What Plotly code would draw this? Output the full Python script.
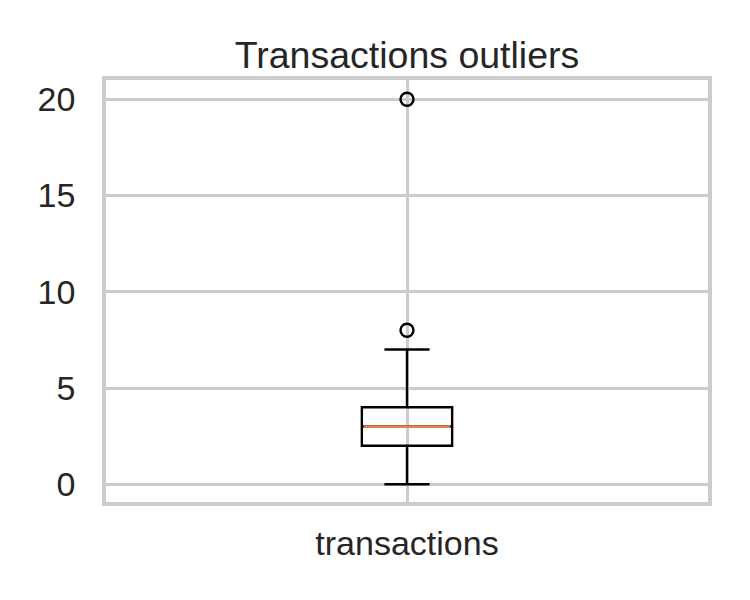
import plotly.graph_objects as go

# Data
category = ["transactions"]
positions = [1]
q1 = [2]
median = [3]
q3 = [4]
lower_whisker = [0]
upper_whisker = [7]
outliers = [8, 20]
box_width = 0.15

y_ticks = [0, 5, 10, 15, 20]

TEXT = "#262626"
GRID = "#cccccc"
FONT = "Liberation Sans, Arial, sans-serif"

fig = go.Figure()

fig.add_trace(go.Box(
    x=positions, q1=q1, median=median, q3=q3,
    lowerfence=lower_whisker, upperfence=upper_whisker,
    width=box_width, whiskerwidth=0.5,
    line=dict(color="black", width=2.4),
    fillcolor="rgba(255,255,255,0)",
    boxpoints=False, showlegend=False, hoverinfo="skip",
))

# orange median line over the box
fig.add_trace(go.Scatter(
    x=[positions[0] - box_width / 2 + 0.003, positions[0] + box_width / 2 - 0.003],
    y=[median[0], median[0]],
    mode="lines", line=dict(color="#dd8452", width=2.8),
    showlegend=False, hoverinfo="skip",
))

# outliers
fig.add_trace(go.Scatter(
    x=[positions[0]] * len(outliers), y=outliers,
    mode="markers",
    marker=dict(symbol="circle-open", size=13, color="black", line=dict(width=2.4, color="black")),
    showlegend=False, hoverinfo="skip",
))

fig.update_layout(
    width=750, height=600,
    margin=dict(l=106, r=42, t=80, b=98),
    paper_bgcolor="white", plot_bgcolor="white",
    font=dict(family=FONT, color=TEXT, size=34),
    title=dict(
        text="Transactions outliers",
        x=0.5, xref="paper", xanchor="center",
        y=1, yref="paper", yanchor="bottom",
        pad=dict(b=12),
        font=dict(size=37.5, color=TEXT, family=FONT),
    ),
    xaxis=dict(
        range=[0.5, 1.5], tickvals=positions, ticktext=category,
        showgrid=True, gridcolor=GRID, gridwidth=3,
        showline=True, linecolor=GRID, linewidth=3.5, mirror=True,
        zeroline=False, ticks="", ticklabelstandoff=8,
        tickfont=dict(size=34, color=TEXT),
    ),
    yaxis=dict(
        range=[-0.92, 21.0], tickvals=y_ticks,
        showgrid=True, gridcolor=GRID, gridwidth=3,
        showline=True, linecolor=GRID, linewidth=3.5, mirror=True,
        zeroline=False, ticks="", ticklabelstandoff=20,
        tickfont=dict(size=34, color=TEXT),
    ),
)

fig.write_html("out.html")
